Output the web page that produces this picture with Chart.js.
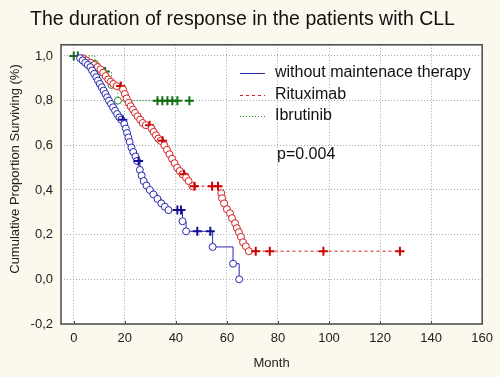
<!DOCTYPE html>
<html>
<head>
<meta charset="utf-8">
<script src="https://cdn.jsdelivr.net/npm/chart.js@4.4.1/dist/chart.umd.min.js"></script>
<style>
  html, body { margin: 0; padding: 0; background: #fbf8ee; }
  #wrap { width: 500px; height: 377px; }
</style>
</head>
<body>
<div id="wrap"><canvas id="c" width="500" height="377"></canvas></div>
<script>
// ---- Data (month, cumulative proportion surviving, mark: 's' start, 'o' event, '+' censored) ----
const titleText = 'The duration of response in the patients with CLL';
const seriesNames = ['without maintenace therapy', 'Rituximab', 'Ibrutinib'];
const xTicks = [0, 20, 40, 60, 80, 100, 120, 140, 160];
const yTicks = [-0.2, 0, 0.2, 0.4, 0.6, 0.8, 1.0];
const pValueText = 'p=0.004';

const withoutTherapy = [
  [0,1,'s'],[2.5,0.99,'o'],[3.5,0.98,'o'],[4.5,0.97,'o'],[5.5,0.96,'o'],[6.5,0.95,'o'],
  [7.2,0.935,'o'],[8,0.92,'o'],[8.8,0.905,'o'],[9.5,0.89,'o'],[10.2,0.875,'o'],[11,0.86,'o'],
  [11.7,0.845,'o'],[12.4,0.83,'o'],[13.1,0.815,'o'],[13.8,0.80,'o'],[14.6,0.785,'o'],[15.4,0.77,'o'],
  [16.2,0.755,'o'],[17,0.74,'o'],[17.9,0.725,'o'],[18.6,0.715,'o'],[19.2,0.715,'+'],
  [19.8,0.695,'o'],[20.4,0.675,'o'],[20.9,0.655,'o'],[21.4,0.635,'o'],[21.9,0.615,'o'],
  [22.6,0.59,'o'],[23.3,0.57,'o'],[24.2,0.55,'o'],[24.8,0.53,'o'],[25.4,0.53,'+'],
  [25.9,0.49,'o'],[26.6,0.465,'o'],[27.4,0.44,'o'],[28.5,0.42,'o'],[29.8,0.40,'o'],[31.2,0.38,'o'],
  [32.8,0.36,'o'],[34.3,0.34,'o'],[35.7,0.325,'o'],[37.1,0.31,'o'],[40.6,0.31,'+'],[42.0,0.31,'+'],
  [42.6,0.26,'o'],[44.0,0.215,'o'],[48.4,0.215,'+'],[53.5,0.215,'+'],[54.4,0.145,'o'],
  [62.4,0.07,'o'],[64.8,0.0,'o']
];
const rituximab = [
  [0,1,'s'],[3.5,0.99,'o'],[5,0.98,'o'],[6.5,0.97,'o'],[8,0.96,'o'],[9.3,0.95,'o'],[10.5,0.94,'o'],
  [11.5,0.925,'o'],[12.5,0.91,'o'],[13.5,0.895,'o'],[14.5,0.885,'o'],[15.5,0.875,'o'],[16.8,0.865,'o'],
  [18.4,0.865,'+'],[19.3,0.85,'o'],[20,0.83,'o'],[20.7,0.81,'o'],[21.5,0.79,'o'],[22.3,0.775,'o'],
  [23.2,0.76,'o'],[24,0.745,'o'],[25,0.73,'o'],[26,0.715,'o'],[27,0.70,'o'],[28.2,0.69,'o'],
  [29.7,0.69,'+'],[30.5,0.675,'o'],[31.3,0.66,'o'],[32.2,0.645,'o'],[33.1,0.63,'o'],[34,0.62,'o'],
  [34.8,0.62,'+'],[35.5,0.60,'o'],[36.5,0.58,'o'],[37.5,0.56,'o'],[38.5,0.54,'o'],[39.5,0.52,'o'],
  [40.5,0.50,'o'],[41.5,0.485,'o'],[42.6,0.47,'o'],[43.2,0.47,'+'],[44,0.455,'o'],[45,0.44,'o'],
  [46.5,0.417,'o'],[47.3,0.417,'+'],[54.2,0.417,'+'],[56.5,0.417,'+'],[57.8,0.386,'o'],
  [58.1,0.363,'o'],[58.9,0.34,'o'],[60,0.314,'o'],[61.2,0.296,'o'],[62,0.274,'o'],[63.2,0.251,'o'],
  [63.9,0.229,'o'],[64.7,0.211,'o'],[65.5,0.19,'o'],[66.3,0.166,'o'],[67.4,0.148,'o'],[68.6,0.126,'o'],
  [71.3,0.126,'+'],[76.8,0.126,'+'],[97.8,0.126,'+'],[127.8,0.126,'+']
];
const ibrutinib = [
  [0,1,'+'],[1.6,1,'+'],[8.3,0.965,'o'],[10.5,0.93,'o'],[12.3,0.93,'+'],[14.8,0.87,'o'],
  [17.3,0.80,'o'],[21.2,0.80,'+'],[32.8,0.80,'+'],[34.7,0.80,'+'],[36.7,0.80,'+'],
  [38.6,0.80,'+'],[40.6,0.80,'+'],[45.3,0.80,'+']
];

// ---- Styles ----
const FONT = "'Liberation Sans', Arial, sans-serif";
const lineColors = ['#2828b4', '#d42020', '#2a8a2a'];
const markColors = ['#101090', '#cc0000', '#107010'];
const dashes = [[], [3, 3], [1, 2]];

function makeDataset(rows, i) {
  return {
    label: seriesNames[i],
    data: rows.map(r => ({ x: r[0], y: r[1] })),
    showLine: true,
    stepped: 'before',
    borderColor: lineColors[i],
    borderWidth: 1,
    borderDash: dashes[i],
    pointStyle: ctx => rows[ctx.dataIndex] && rows[ctx.dataIndex][2] === '+' ? 'cross' : 'circle',
    pointRadius: ctx => {
      const m = rows[ctx.dataIndex] ? rows[ctx.dataIndex][2] : 'o';
      return m === 's' ? 0 : (m === '+' ? 4.5 : 3.5);
    },
    pointBorderWidth: ctx => rows[ctx.dataIndex] && rows[ctx.dataIndex][2] === '+' ? 2 : 1,
    pointBorderColor: ctx => rows[ctx.dataIndex] && rows[ctx.dataIndex][2] === '+' ? markColors[i] : lineColors[i],
    pointBackgroundColor: '#ffffff',
    pointHoverRadius: 0,
    fill: false
  };
}

const decorPlugin = {
  id: 'decor',
  beforeDraw(chart) {
    const { ctx, chartArea: a } = chart;
    ctx.save();
    ctx.fillStyle = '#fbf8ee';
    ctx.fillRect(0, 0, chart.width, chart.height);
    ctx.fillStyle = '#ffffff';
    ctx.fillRect(a.left, a.top, a.right - a.left, a.bottom - a.top);
    ctx.restore();
  },
  afterDraw(chart) {
    const { ctx, chartArea: a } = chart;
    ctx.save();
    // plot frame
    ctx.strokeStyle = '#4a4a4a';
    ctx.lineWidth = 1.5;
    ctx.strokeRect(a.left, a.top, a.right - a.left, a.bottom - a.top);
    // small inward tick marks on the x axis
    ctx.lineWidth = 1;
    const xs = chart.scales.x;
    xTicks.forEach(v => {
      const px = Math.round(xs.getPixelForValue(v)) + 0.5;
      ctx.beginPath();
      ctx.moveTo(px, a.bottom);
      ctx.lineTo(px, a.bottom - 3);
      ctx.stroke();
    });
    // y axis title
    ctx.fillStyle = '#222222';
    ctx.font = '13px ' + FONT;
    ctx.textAlign = 'center';
    ctx.textBaseline = 'middle';
    ctx.translate(15, 169);
    ctx.rotate(-Math.PI / 2);
    ctx.fillText('Cumulative Proportion Surviving (%)', 0, 0);
    ctx.restore();

    // legend
    ctx.save();
    ctx.font = '16px ' + FONT;
    ctx.textBaseline = 'middle';
    ctx.textAlign = 'left';
    const ys = [73, 95, 116];
    seriesNames.forEach((name, i) => {
      ctx.strokeStyle = lineColors[i];
      ctx.lineWidth = 1;
      ctx.setLineDash(dashes[i]);
      ctx.beginPath();
      ctx.moveTo(240, ys[i] + 0.5);
      ctx.lineTo(265, ys[i] + 0.5);
      ctx.stroke();
      ctx.setLineDash([]);
      ctx.fillStyle = '#111111';
      ctx.fillText(name, 275, ys[i]);
    });
    ctx.fillText(pValueText, 277, 155);
    ctx.restore();
  }
};

new Chart(document.getElementById('c'), {
  type: 'scatter',
  data: {
    datasets: [
      makeDataset(withoutTherapy, 0),
      makeDataset(rituximab, 1),
      makeDataset(ibrutinib, 2)
    ]
  },
  options: {
    responsive: false,
    animation: false,
    layout: { padding: { left: 0, right: 15, top: 0, bottom: 0 } },
    plugins: {
      legend: { display: false },
      tooltip: { enabled: false },
      title: {
        display: true,
        text: titleText,
        color: '#111111',
        font: { family: FONT, size: 19.5, weight: 'normal' },
        padding: { top: 8, bottom: 13.4 }
      }
    },
    scales: {
      x: {
        type: 'linear',
        min: -5,
        max: 160,
        afterBuildTicks: s => { s.ticks = xTicks.map(v => ({ value: v })); },
        afterFit: s => { s.height = 53; },
        border: { display: false, dash: [1, 2] },
        grid: { color: '#a8a8a8', lineWidth: 1, drawTicks: false },
        ticks: { padding: 7, color: '#222222', font: { family: FONT, size: 13 }, maxRotation: 0 },
        title: { display: true, text: 'Month', color: '#222222', font: { family: FONT, size: 13 }, padding: { top: 0, bottom: 6 } }
      },
      y: {
        type: 'linear',
        min: -0.2,
        max: 1.05,
        afterBuildTicks: s => { s.ticks = yTicks.map(v => ({ value: v })); },
        afterFit: s => { s.width = 61; },
        border: { display: false, dash: [1, 2] },
        grid: { color: '#a8a8a8', lineWidth: 1, drawTicks: false },
        ticks: {
          padding: 8, color: '#222222', font: { family: FONT, size: 13 },
          callback: v => Number(v).toFixed(1).replace('.', ',')
        }
      }
    }
  },
  plugins: [decorPlugin]
});
</script>
</body>
</html>
